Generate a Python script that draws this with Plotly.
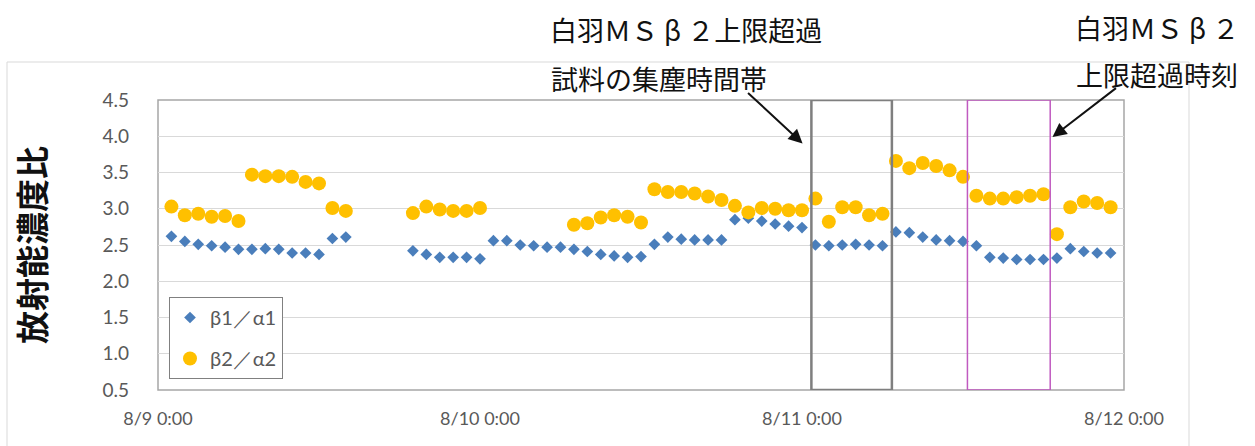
import pandas as pd
import plotly.graph_objects as go

# Hourly samples, hours counted from 8/9 0:00
BETA1_HOURS = [1, 2, 3, 4, 5, 6, 7, 8, 9, 10, 11, 12, 13, 14,
               19, 20, 21, 22, 23, 24, 25, 26, 27, 28, 29, 30,
               31, 32, 33, 34, 35, 36, 37, 38, 39, 40, 41, 42,
               43, 44, 45, 46, 47, 48, 49, 50, 51, 52, 53, 54,
               55, 56, 57, 58, 59, 60, 61, 62, 63, 64, 65, 66,
               67, 68, 69, 70, 71]
BETA1_RATIO = [2.62, 2.55, 2.51, 2.49, 2.47, 2.44, 2.44, 2.45, 2.44, 2.39, 2.39, 2.37, 2.59, 2.61,
               2.42, 2.37, 2.33, 2.33, 2.33, 2.31, 2.56, 2.56, 2.50, 2.49, 2.47, 2.47,
               2.44, 2.41, 2.37, 2.35, 2.33, 2.34, 2.51, 2.61, 2.58, 2.57, 2.57, 2.57,
               2.85, 2.87, 2.83, 2.79, 2.76, 2.74, 2.50, 2.49, 2.50, 2.51, 2.50, 2.49,
               2.68, 2.67, 2.61, 2.57, 2.56, 2.55, 2.49, 2.33, 2.32, 2.30, 2.30, 2.30,
               2.32, 2.45, 2.41, 2.39, 2.39]

BETA2_HOURS = [1, 2, 3, 4, 5, 6, 7, 8, 9, 10, 11, 12, 13, 14,
               19, 20, 21, 22, 23, 24,
               31, 32, 33, 34, 35, 36, 37, 38, 39, 40, 41, 42,
               43, 44, 45, 46, 47, 48, 49, 50, 51, 52, 53, 54,
               55, 56, 57, 58, 59, 60, 61, 62, 63, 64, 65, 66,
               67, 68, 69, 70, 71]
BETA2_RATIO = [3.03, 2.91, 2.93, 2.89, 2.90, 2.83, 3.47, 3.45, 3.45, 3.44, 3.37, 3.35, 3.01, 2.97,
               2.94, 3.03, 2.99, 2.97, 2.97, 3.01,
               2.78, 2.80, 2.88, 2.91, 2.89, 2.81, 3.27, 3.23, 3.23, 3.21, 3.17, 3.12,
               3.04, 2.95, 3.01, 3.00, 2.98, 2.98, 3.14, 2.82, 3.02, 3.02, 2.91, 2.93,
               3.66, 3.56, 3.63, 3.59, 3.53, 3.44, 3.18, 3.14, 3.14, 3.16, 3.18, 3.20,
               2.65, 3.02, 3.10, 3.08, 3.02]

X_TICK_DATES = ["2011-08-09", "2011-08-10", "2011-08-11", "2011-08-12"]
X_TICK_TEXT = ["8/9 0:00", "8/10 0:00", "8/11 0:00", "8/12 0:00"]

# highlighted windows (hours from 8/9 0:00)
DUST_WINDOW = (48.7, 54.7)      # 集塵時間帯
EXCEED_WINDOW = (60.33, 66.5)   # 上限超過時刻

BASE = pd.Timestamp("2011-08-09 00:00")


def to_time(hours):
    return BASE + pd.to_timedelta(hours, unit="h")


# pixel layout of the picture
W, H = 1255, 446
PL, PR, PT, PB = 158, 1124, 100, 390


def px(x):
    return (x - PL) / (PR - PL)


def py(y):
    return (PB - y) / (PB - PT)


JP = "Noto Sans CJK JP"
NUM = "Lato, Liberation Sans, sans-serif"

fig = go.Figure()
fig.add_trace(go.Scatter(
    x=to_time(BETA1_HOURS), y=BETA1_RATIO, name="β1／α1", mode="markers",
    legendgroup="b1",
    marker=dict(symbol="diamond", size=9, color="#4A7EBB"),
))
fig.add_trace(go.Scatter(
    x=to_time(BETA2_HOURS), y=BETA2_RATIO, name="β2／α2", mode="markers",
    legendgroup="b2",
    marker=dict(symbol="circle", size=14, color="#FFC000"),
))

# collection window (gray) and exceedance window (magenta)
fig.add_shape(type="rect", xref="x", yref="y",
              x0=to_time(DUST_WINDOW[0]), x1=to_time(DUST_WINDOW[1]), y0=0.5, y1=4.5,
              line=dict(color="#7F7F7F", width=2.5))
fig.add_shape(type="rect", xref="x", yref="y",
              x0=to_time(EXCEED_WINDOW[0]), x1=to_time(EXCEED_WINDOW[1]), y0=0.5, y1=4.5,
              line=dict(color="#C05AC0", width=1.5))

# plot-area frame and outer chart frame
fig.add_shape(type="rect", xref="paper", yref="paper", x0=0, x1=1, y0=0, y1=1,
              line=dict(color="#A6A6A6", width=1.5), layer="below")
fig.add_shape(type="rect", xref="paper", yref="paper",
              x0=px(7), x1=px(1189), y0=py(452), y1=py(62),
              line=dict(color="#D9D9D9", width=1), layer="below")

txt = dict(font=dict(family=JP, size=27, color="#111111"), showarrow=False,
           xref="paper", yref="paper", xanchor="center", yanchor="middle")
fig.add_annotation(text="白羽ＭＳ β ２上限超過", x=px(686), y=py(30), **txt)
fig.add_annotation(text="試料の集塵時間帯", x=px(659), y=py(78), **txt)
fig.add_annotation(text="白羽ＭＳ β ２", x=px(1157), y=py(27), **txt)
fig.add_annotation(text="上限超過時刻", x=px(1157), y=py(75), **txt)

arrow = dict(text="", showarrow=True, arrowhead=2, arrowsize=1.4, arrowwidth=2,
             arrowcolor="#111111", xref="x", yref="y", axref="pixel", ayref="pixel")
fig.add_annotation(x=to_time(48.04), y=3.90, ax=-56, ay=-52, **arrow)
fig.add_annotation(x=to_time(66.67), y=3.99, ax=65, ay=-50, **arrow)

fig.update_xaxes(
    range=[to_time(0), to_time(72)],
    tickmode="array", tickvals=X_TICK_DATES, ticktext=X_TICK_TEXT,
    tickfont=dict(family=NUM, size=18, color="#595959"),
    showgrid=False, zeroline=False, showline=False,
    ticklabelstandoff=16,
)
fig.update_yaxes(
    range=[0.5, 4.5], dtick=0.5, tick0=0.5, tickformat=".1f",
    tickfont=dict(family=NUM, size=19, color="#595959"),
    gridcolor="#D9D9D9", gridwidth=1, zeroline=False, showline=False,
    ticklabelstandoff=28,
    title=dict(text="<b>放射能濃度比</b>", font=dict(family=JP, size=33, color="#111111"),
               standoff=46),
)
fig.update_layout(
    width=W, height=H,
    margin=dict(l=PL, r=W - PR, t=PT, b=H - PB, autoexpand=False),
    plot_bgcolor="#FFFFFF", paper_bgcolor="#FFFFFF",
    showlegend=True,
    legend=dict(
        x=px(169), y=py(297), xanchor="left", yanchor="top",
        bgcolor="#FFFFFF", bordercolor="#808080", borderwidth=1,
        font=dict(family=NUM, size=20, color="#595959"),
        tracegroupgap=12, itemwidth=30,
    ),
)

fig.write_html("out.html", config={"displayModeBar": False},
               post_script="document.body.style.margin='0';")
